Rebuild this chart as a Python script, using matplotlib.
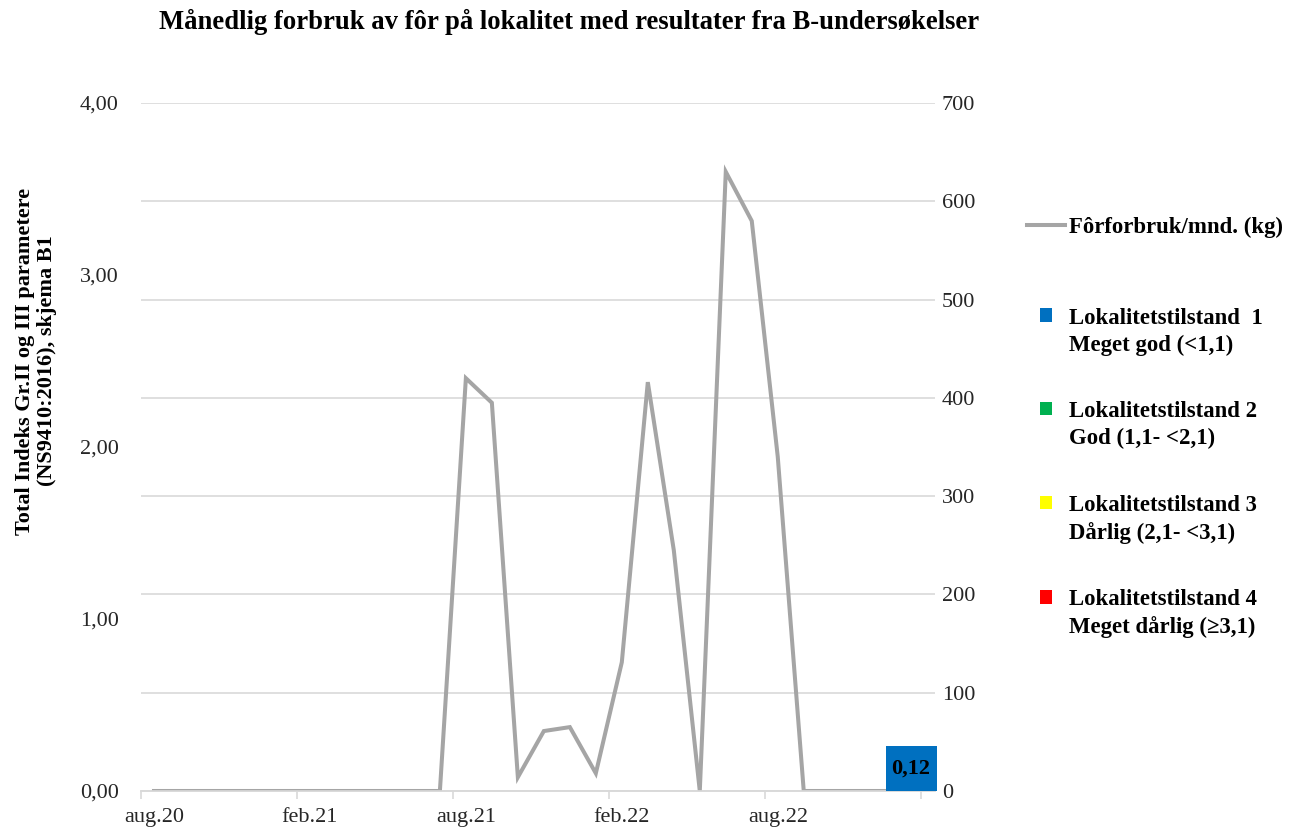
import matplotlib
matplotlib.use("Agg")
import matplotlib.pyplot as plt
from matplotlib.lines import Line2D
from matplotlib.patches import Patch, Rectangle
from matplotlib.legend_handler import HandlerPatch
from matplotlib.ticker import FixedLocator, NullFormatter, FuncFormatter

plt.rcParams['font.family'] = ['Liberation Serif', 'DejaVu Serif']

# ---- data ----
months = ["aug.20", "sep.20", "okt.20", "nov.20", "des.20", "jan.21", "feb.21", "mar.21",
          "apr.21", "mai.21", "jun.21", "jul.21", "aug.21", "sep.21", "okt.21", "nov.21",
          "des.21", "jan.22", "feb.22", "mar.22", "apr.22", "mai.22", "jun.22", "jul.22",
          "aug.22", "sep.22", "okt.22", "nov.22", "des.22", "jan.23"]
feed_kg = [0, 0, 0, 0, 0, 0, 0, 0, 0, 0, 0, 0, 420, 395, 14, 61, 65, 18, 131, 416,
           245, 0, 630, 580, 340, 0, 0, 0, 0, 0]
survey_month_pos = [29.63]   # months after aug.20 (B-survey)
survey_index = [0.12]
survey_label = ["0,12"]
tick_labels = ["aug.20", "feb.21", "aug.21", "feb.22", "aug.22", ""]
legend_states = ["Lokalitetstilstand  1\nMeget god (<1,1)",
                 "Lokalitetstilstand 2\nGod (1,1- <2,1)",
                 "Lokalitetstilstand 3\nDårlig (2,1- <3,1)",
                 "Lokalitetstilstand 4\nMeget dårlig (≥3,1)"]
state_colors = ["#0070C0", "#00B050", "#FFFF00", "#FF0000"]

W, H = 1296, 831
fig = plt.figure(figsize=(W / 100, H / 100), dpi=100)
ax = fig.add_axes([141 / W, 1 - 791 / H, (935 - 141) / W, (791 - 103) / H])
ax2 = ax.twinx()
ax.set_zorder(ax2.get_zorder() + 1)
ax.patch.set_visible(False)

grey = "#A5A5A5"
gridc = "#D9D9D9"
txtc = "#262626"

x_line = [i + 0.5 for i in range(len(feed_kg))]
ax2.plot(x_line, feed_kg, color=grey, lw=2.9, solid_joinstyle='miter', zorder=3)
ax2.set_ylim(0, 700)
ax2.set_yticks(range(0, 701, 100))
ax2.grid(axis='y', color=gridc, lw=1.2)
ax2.set_axisbelow(True)

ax.bar(survey_month_pos, survey_index, width=1.85, color=state_colors[0], zorder=4)
for xp, v, lab in zip(survey_month_pos, survey_index, survey_label):
    ax.annotate(lab, (xp, v), xytext=(0, 1.2), textcoords='offset points',
                ha='center', va='center', fontsize=16, weight='bold', zorder=5,
                bbox=dict(boxstyle='square,pad=0.27', fc=state_colors[0], ec='none',
                          mutation_aspect=2.1))

ax.set_ylim(0, 4)
ax.set_yticks([0, 1, 2, 3, 4])
ax.yaxis.set_major_formatter(FuncFormatter(lambda v, p: f"{v:.2f}".replace('.', ',')))
ax.set_xlim(0, 30.55)

major = [0, 6, 12, 18, 24, 30]
ax.xaxis.set_major_locator(FixedLocator(major))
ax.xaxis.set_major_formatter(NullFormatter())
ax.xaxis.set_minor_locator(FixedLocator([m + 0.5 for m in major]))
ax.set_xticklabels(tick_labels, minor=True)
ax.tick_params(axis='x', which='major', length=6, color=gridc, width=1.2)
ax.tick_params(axis='x', which='minor', length=0, pad=12, labelsize=16, labelcolor=txtc)
ax.tick_params(axis='y', length=0, pad=16, labelsize=16, labelcolor=txtc)
ax2.tick_params(axis='y', length=0, pad=5, labelsize=16, labelcolor=txtc)
ax2.set_xlim(ax.get_xlim())
for a in (ax, ax2):
    for s in ('top', 'left', 'right'):
        a.spines[s].set_visible(False)
    a.spines['bottom'].set_color(gridc)
    a.spines['bottom'].set_linewidth(1.2)

fig.text(569 / W, 1 - 22 / H, "Månedlig forbruk av fôr på lokalitet med resultater fra B-undersøkelser",
         ha='center', va='center', fontsize=19.2, weight='bold')
fig.text(36 / W, 1 - 361 / H,
         "Total Indeks Gr.II og III parametere\n(NS9410:2016), skjema B1",
         rotation=90, ha='center', va='center', fontsize=16, weight='bold',
         linespacing=1.1, multialignment='center')

leg1 = fig.legend(handles=[Line2D([], [], color=grey, lw=2.9)], labels=["Fôrforbruk/mnd. (kg)"],
                  loc='center left', bbox_to_anchor=(1027 / W, 1 - 227 / H), frameon=False,
                  prop={'size': 16.4, 'weight': 'bold'}, handlelength=1.65, handletextpad=0.2,
                  borderpad=0, borderaxespad=0)


def top_square(legend, orig_handle, xdescent, ydescent, width, height, fontsize):
    return Rectangle((-xdescent, -ydescent + 12), width, height)


handles = [Patch(facecolor=c, edgecolor='none') for c in state_colors]
leg2 = fig.legend(handles=handles, labels=legend_states, loc='upper left',
                  bbox_to_anchor=(1040 / W, 1 - 308 / H), frameon=False,
                  prop={'size': 16.4, 'weight': 'bold'}, handlelength=0.53, handleheight=0.53,
                  handletextpad=0.75, labelspacing=2.0, borderpad=0, borderaxespad=0,
                  handler_map={Patch: HandlerPatch(patch_func=top_square)})
for t in leg2.get_texts():
    t.set_linespacing(1.35)

fig.savefig("out.png", dpi=100)
